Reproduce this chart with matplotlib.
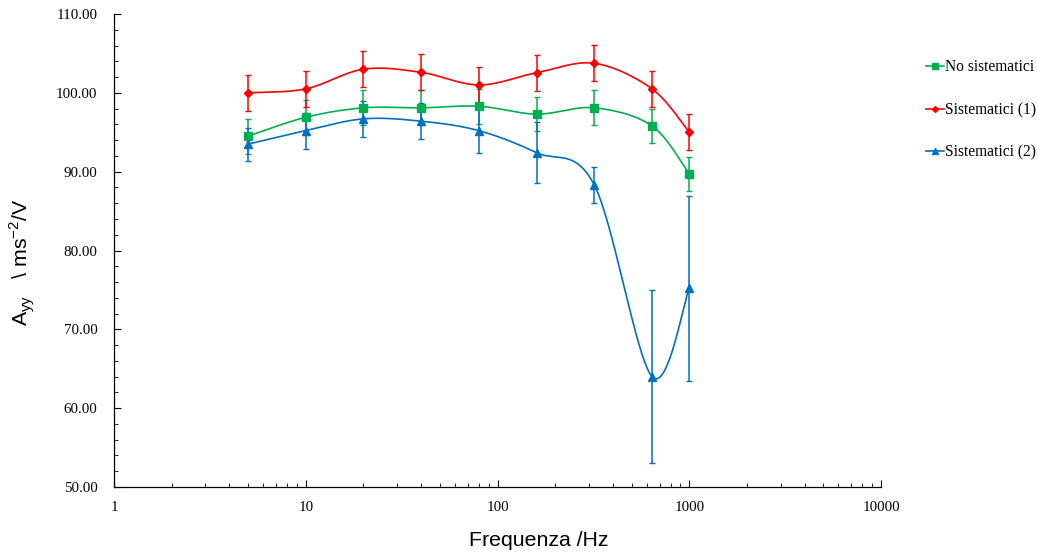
import numpy as np
import matplotlib
matplotlib.use("Agg")
import matplotlib.pyplot as plt
from matplotlib.ticker import FixedLocator, LogLocator, NullFormatter, MultipleLocator

freq = [5, 10, 20, 40, 80, 160, 320, 640, 1000]
no_sist = [94.5, 96.9, 98.1, 98.1, 98.3, 97.3, 98.1, 95.8, 89.7]
no_sist_err = [2.2, 2.2, 2.2, 2.2, 2.2, 2.2, 2.2, 2.2, 2.2]
sist1 = [100.0, 100.5, 103.0, 102.6, 101.0, 102.55, 103.75, 100.5, 95.0]
sist1_err = [2.3, 2.3, 2.3, 2.3, 2.3, 2.3, 2.3, 2.3, 2.3]
sist2 = [93.5, 95.2, 96.7, 96.4, 95.2, 92.4, 88.3, 64.0, 75.2]
sist2_err = [2.1, 2.3, 2.3, 2.3, 2.8, 3.9, 2.25, 11.0, 11.7]
labels = ["No sistematici", "Sistematici (1)", "Sistematici (2)"]
colors = ["#00B050", "#FF0000", "#0070C0"]
markers = ["s", "D", "^"]
msizes = [5.5, 4.0, 6.0]
yticks = [50, 60, 70, 80, 90, 100, 110]
xticks = [1, 10, 100, 1000, 10000]


def smooth(x, y, n=40):
    # Excel-like smoothed line (Catmull-Rom) in log-x / linear-y space
    lx = np.log10(np.asarray(x, float))
    yy = np.asarray(y, float)
    P = np.column_stack([lx, yy])
    P = np.vstack([P[0], P, P[-1]])
    out = []
    t = np.linspace(0, 1, n)[:, None]
    for i in range(1, len(P) - 2):
        p0, p1, p2, p3 = P[i - 1], P[i], P[i + 1], P[i + 2]
        c1 = p1 + (p2 - p0) / 6.0
        c2 = p2 - (p3 - p1) / 6.0
        seg = ((1 - t) ** 3) * p1 + 3 * ((1 - t) ** 2) * t * c1 + 3 * (1 - t) * t ** 2 * c2 + t ** 3 * p2
        out.append(seg if i == 1 else seg[1:])
    S = np.vstack(out)
    return 10 ** S[:, 0], S[:, 1]


fig = plt.figure(figsize=(10.38, 5.54), dpi=100)
ax = fig.add_axes([114 / 1038, 1 - 487 / 554, 767 / 1038, 473 / 554])

series = [(no_sist, no_sist_err), (sist1, sist1_err), (sist2, sist2_err)]
handles = []
for (vals, errs), lab, col, mk, ms in zip(series, labels, colors, markers, msizes):
    sx, sy = smooth(freq, vals)
    ax.plot(sx, sy, color=col, lw=1.2, zorder=2)
    ax.errorbar(freq, vals, yerr=errs, fmt="none", ecolor=col, elinewidth=1.1,
                capsize=2.0, capthick=1.0, zorder=3)
    ax.plot(freq, vals, linestyle="none", marker=mk, ms=ms, color=col, zorder=4)
    h, = ax.plot([], [], color=col, lw=1.2, marker=mk, ms=ms - 1, label=lab)
    handles.append(h)

ax.set_xscale("log")
ax.set_xlim(1, 10000)
ax.set_ylim(50, 110)
ax.xaxis.set_major_locator(FixedLocator(xticks))
ax.set_xticklabels([str(v) for v in xticks])
ax.xaxis.set_minor_locator(LogLocator(base=10, subs=np.arange(2, 10)))
ax.xaxis.set_minor_formatter(NullFormatter())
ax.yaxis.set_major_locator(FixedLocator(yticks))
ax.set_yticklabels([f"{v:.2f}" for v in yticks])
ax.yaxis.set_minor_locator(MultipleLocator(2))

for s in ["top", "right"]:
    ax.spines[s].set_visible(False)
for s in ["left", "bottom"]:
    ax.spines[s].set_linewidth(0.9)
    ax.spines[s].set_color("#000000")

ax.tick_params(axis="both", which="major", direction="in", length=5, width=0.8)
ax.tick_params(axis="both", which="minor", direction="in", length=3, width=0.6)
ax.tick_params(axis="y", which="major", pad=12)
ax.tick_params(axis="x", which="major", pad=10)
for lbl in ax.get_xticklabels() + ax.get_yticklabels():
    lbl.set_fontfamily("Liberation Serif")
    lbl.set_fontsize(10.8)

ax.set_xlabel("Frequenza /Hz", fontfamily="Liberation Sans", fontsize=15.3)
ax.xaxis.set_label_coords(0.5535, -0.093)
ax.set_ylabel(r"A$_{\mathregular{yy}}$   \ ms$^{\mathregular{-2}}$/V", fontfamily="Liberation Sans", fontsize=15.3)
ax.yaxis.set_label_coords(-0.100, 0.475)

fig.legend(handles=handles, loc="upper left", bbox_to_anchor=(920 / 1038, 1 - 53 / 554),
           frameon=False, prop={"family": "Liberation Serif", "size": 11.2},
           handlelength=1.15, handletextpad=0.05, labelspacing=1.72, borderaxespad=0)

fig.savefig("out.png", dpi=100)
